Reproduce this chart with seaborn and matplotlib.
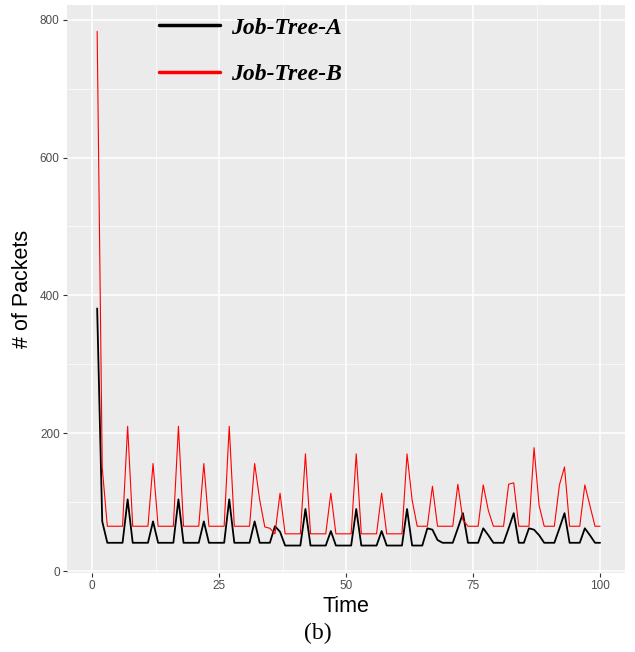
import numpy as np
import pandas as pd
import seaborn as sns
import matplotlib.pyplot as plt
from matplotlib.lines import Line2D

# values, t = 1..100
time = list(range(1, 101))

job_tree_a = [
    381, 72, 41, 41, 41, 41, 104, 41, 41, 41,
    41, 72, 41, 41, 41, 41, 104, 41, 41, 41,
    41, 72, 41, 41, 41, 41, 104, 41, 41, 41,
    41, 72, 41, 41, 41, 65, 57, 37, 37, 37,
    37, 90, 37, 37, 37, 37, 58, 37, 37, 37,
    37, 90, 37, 37, 37, 37, 58, 37, 37, 37,
    37, 90, 37, 37, 37, 62, 60, 45, 41, 41,
    41, 62, 84, 41, 41, 41, 62, 52, 41, 41,
    41, 62, 84, 41, 41, 62, 60, 52, 41, 41,
    41, 62, 84, 41, 41, 41, 62, 52, 41, 41,
]

job_tree_b = [
    783, 150, 65, 65, 65, 65, 210, 65, 65, 65,
    65, 156, 65, 65, 65, 65, 210, 65, 65, 65,
    65, 156, 65, 65, 65, 65, 210, 65, 65, 65,
    65, 156, 103, 64, 62, 54, 113, 54, 54, 54,
    54, 170, 54, 54, 54, 54, 113, 54, 54, 54,
    54, 170, 54, 54, 54, 54, 113, 54, 54, 54,
    54, 170, 103, 65, 65, 65, 123, 65, 65, 65,
    65, 126, 74, 65, 65, 65, 125, 88, 65, 65,
    65, 126, 128, 65, 65, 65, 179, 95, 65, 65,
    65, 125, 151, 65, 65, 65, 125, 95, 65, 65,
]

series_names = ["Job-Tree-A", "Job-Tree-B"]
series_colors = ["black", "red"]

df = pd.DataFrame({
    "Time": time * 2,
    "Packets": job_tree_a + job_tree_b,
    "Job": [series_names[0]] * len(time) + [series_names[1]] * len(time),
})

sns.set_theme(style="darkgrid")
plt.rcParams["font.family"] = ["Liberation Sans", "DejaVu Sans"]

fig = plt.figure(figsize=(6.35, 6.52), dpi=100)
ax = fig.add_axes([0.105, 0.121, 0.88, 0.871])
ax.set_facecolor("#EBEBEB")

widths = {"Job-Tree-A": 1.3, "Job-Tree-B": 0.8}
for name, color in zip(series_names, series_colors):
    sns.lineplot(data=df[df["Job"] == name], x="Time", y="Packets",
                 color=color, linewidth=widths[name], ax=ax, legend=False)

ax.set_xlim(-5, 105)
ax.set_ylim(-3, 821)
ax.set_xticks([0, 25, 50, 75, 100])
ax.set_yticks([0, 200, 400, 600, 800])
ax.set_xticks([12.5, 37.5, 62.5, 87.5], minor=True)
ax.set_yticks([100, 300, 500, 700], minor=True)
ax.grid(which="major", color="white", linewidth=1.1)
ax.grid(which="minor", color="white", linewidth=0.5)
ax.tick_params(which="major", length=3, width=0.8, color="#333333",
               labelsize=8.5, labelcolor="#4D4D4D", pad=2,
               bottom=True, left=True)
ax.tick_params(which="minor", length=0)
for s in ax.spines.values():
    s.set_visible(False)

ax.set_xlabel("Time", fontsize=15.5, color="black", labelpad=3)
ax.set_ylabel("# of Packets", fontsize=15.5, color="black", labelpad=5)

handles = [Line2D([], [], color=c, linewidth=2.5) for c in series_colors]
leg = ax.legend(handles, series_names, loc="upper left",
                bbox_to_anchor=(159 / 635, 1 - 17 / 652),
                bbox_transform=fig.transFigure, frameon=False,
                borderpad=0, borderaxespad=0, handlelength=2.6,
                handletextpad=0.45, labelspacing=1.07,
                prop={"family": "Liberation Serif", "weight": "bold",
                      "style": "italic", "size": 17})
for t in leg.get_texts():
    t.set_color("black")

fig.text(0.5, 1 - 633 / 652, "(b)", ha="center", va="center",
         family="Liberation Serif", fontsize=17, color="black")

fig.savefig("out.png", dpi=100)
